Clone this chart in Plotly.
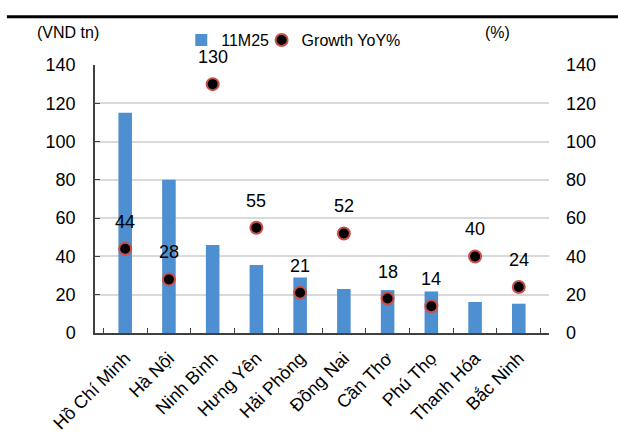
import plotly.graph_objects as go

# Provinces and their 11M25 values with year-on-year growth
provinces = ["Hồ Chí Minh", "Hà Nội", "Ninh Bình", "Hưng Yên", "Hải Phòng",
             "Đồng Nai", "Cần Thơ", "Phú Thọ", "Thanh Hóa", "Bắc Ninh"]
value_11m25 = [115, 80, 46, 35.5, 29, 23, 22.4, 21.7, 16.2, 15.3]
growth_yoy = [44, 28, 130, 55, 21, 52, 18, 14, 40, 24]
tick_vals = [0, 20, 40, 60, 80, 100, 120, 140]

FONT = "Liberation Sans, Arial, sans-serif"
BAR_COLOR = "#4E8FD1"
GRID = "#d9d9d9"

fig = go.Figure()

fig.add_trace(go.Bar(
    x=provinces, y=value_11m25, name="11M25",
    marker=dict(color=BAR_COLOR, line=dict(width=0)),
    yaxis="y", legend="legend",
))

fig.add_trace(go.Scatter(
    x=provinces, y=growth_yoy, name="Growth YoY%", mode="markers",
    marker=dict(color="black", size=12, line=dict(color="#C8504D", width=2)),
    yaxis="y2", legend="legend2",
))

# Growth labels above each marker
for p, g in zip(provinces, growth_yoy):
    fig.add_annotation(x=p, y=g, xref="x", yref="y2", text=str(g),
                       showarrow=False, yshift=27,
                       font=dict(family=FONT, size=18, color="black"))

# Axis unit captions
fig.add_annotation(x=-0.133, y=1.12, xref="paper", yref="paper", text="(VND tn)",
                   showarrow=False, xanchor="left", yanchor="middle",
                   font=dict(family=FONT, size=16, color="black"))
fig.add_annotation(x=0.855, y=1.122, xref="paper", yref="paper", text="(%)",
                   showarrow=False, xanchor="left", yanchor="middle",
                   font=dict(family=FONT, size=16, color="black"))

# Rule under the heading band
fig.add_shape(type="line", xref="paper", yref="paper",
              x0=-0.194, x1=1.2, y0=1.18, y1=1.18,
              line=dict(color="black", width=3))

legend_common = dict(orientation="h", yanchor="middle", xanchor="left",
                     font=dict(family=FONT, size=16), itemwidth=30,
                     bgcolor="rgba(0,0,0,0)")

fig.update_layout(
    width=618, height=447,
    margin=dict(l=95, r=69, t=65, b=114),
    plot_bgcolor="white", paper_bgcolor="white",
    font=dict(family=FONT, size=17, color="black"),
    bargap=0.69,
    showlegend=True,
    legend=dict(x=0.19, y=1.093, **legend_common),
    legend2=dict(x=0.367, y=1.093, **legend_common),
    xaxis=dict(
        tickangle=-45, showgrid=False, showline=True, linecolor="#404040", linewidth=1.5,
        ticks="inside", ticklen=5, tickcolor="#404040", tickson="boundaries",
        tickfont=dict(family=FONT, size=18), ticklabelstandoff=6,
    ),
    yaxis=dict(
        range=[0, 140], tickvals=tick_vals, showgrid=True, gridcolor=GRID, gridwidth=1.5,
        showline=True, linecolor="#404040", linewidth=1.5, ticks="inside", ticklen=5,
        tickcolor="#404040", zeroline=False, tickfont=dict(family=FONT, size=18),
        ticklabelstandoff=14,
    ),
    yaxis2=dict(
        range=[0, 140], tickvals=tick_vals, overlaying="y", side="right",
        showgrid=False, showline=False, zeroline=False, ticks="",
        tickfont=dict(family=FONT, size=18), ticklabelstandoff=16,
    ),
)

fig.write_html("out.html")
